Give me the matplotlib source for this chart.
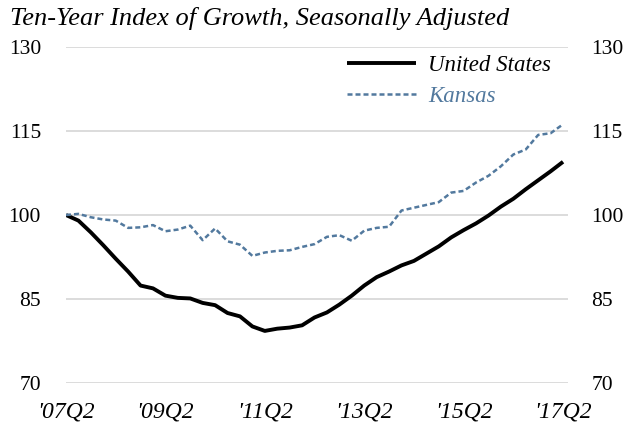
import matplotlib
matplotlib.use("Agg")
import matplotlib.pyplot as plt
import numpy as np

quarters = list(range(41))  # 2007Q2 .. 2017Q2
us = [100.0, 99.0, 96.9, 94.6, 92.2, 89.9, 87.4, 86.9, 85.6, 85.2,
      85.1, 84.3, 83.9, 82.5, 81.9, 80.1, 79.3, 79.7, 79.9, 80.3,
      81.7, 82.6, 84.0, 85.6, 87.4, 88.9, 89.9, 91.0, 91.8, 93.1,
      94.4, 96.0, 97.3, 98.5, 99.9, 101.5, 102.9, 104.6, 106.2, 107.8, 109.5]
kansas = [100.0, 100.2, 99.6, 99.2, 99.0, 97.7, 97.8, 98.2, 97.1, 97.4,
          98.1, 95.5, 97.6, 95.3, 94.7, 92.7, 93.3, 93.6, 93.7, 94.3,
          94.8, 96.1, 96.4, 95.4, 97.2, 97.7, 97.9, 100.8, 101.3, 101.8,
          102.3, 104.0, 104.3, 105.8, 107.0, 108.7, 110.8, 111.7, 114.3, 114.6, 116.2]
xtick_pos = [0, 8, 16, 24, 32, 40]
xtick_labels = ["'07Q2", "'09Q2", "'11Q2", "'13Q2", "'15Q2", "'17Q2"]
yticks = [70, 85, 100, 115, 130]

serif = ['Liberation Serif', 'DejaVu Serif']
kansas_color = '#52799E'

fig = plt.figure(figsize=(6.29, 4.30), dpi=100)
ax = fig.add_axes([66/629, 1-383/430, (568-66)/629, (383-47)/430])

ax.plot(quarters, us, color='black', lw=2.8, solid_capstyle='butt', label='United States', zorder=3)
ax.plot(quarters, kansas, color=kansas_color, lw=1.8, dashes=(2.0, 1.2), label='Kansas', zorder=3)

ax.set_xlim(0, 40.4)
ax.set_ylim(70, 130)
ax.set_yticks(yticks)
ax.grid(axis='y', color='#d9d9d9', lw=1.3)
ax.set_axisbelow(True)
for s in ax.spines.values():
    s.set_visible(False)

ax.set_xticks(xtick_pos)
ax.set_xticklabels(xtick_labels, fontfamily=serif, fontstyle='italic', fontsize=17)
ax.tick_params(axis='x', length=0, pad=13)
ax.tick_params(axis='y', length=0, labelsize=15.5, pad=18)
for lab in ax.get_yticklabels():
    lab.set_fontfamily(serif)
ax2 = ax.secondary_yaxis('right')
ax2.set_yticks(yticks)
ax2.tick_params(length=0, labelsize=15.5, pad=17)
for lab in ax2.get_yticklabels():
    lab.set_fontfamily(serif)
ax2.spines['right'].set_visible(False)

fig.text(10/629, 1-18/430, 'Ten-Year Index of Growth, Seasonally Adjusted', fontfamily=serif,
         fontstyle='italic', fontsize=19, va='center', ha='left')

leg = ax.legend(loc='upper right', bbox_to_anchor=(0.985, 1.005), frameon=False,
                prop={'family': serif, 'style': 'italic', 'size': 16.5},
                handlelength=3.0, handletextpad=0.55, labelspacing=0.45, borderaxespad=0)
for t, c in zip(leg.get_texts(), ['black', kansas_color]):
    t.set_color(c)

fig.savefig('out.png', dpi=100)
